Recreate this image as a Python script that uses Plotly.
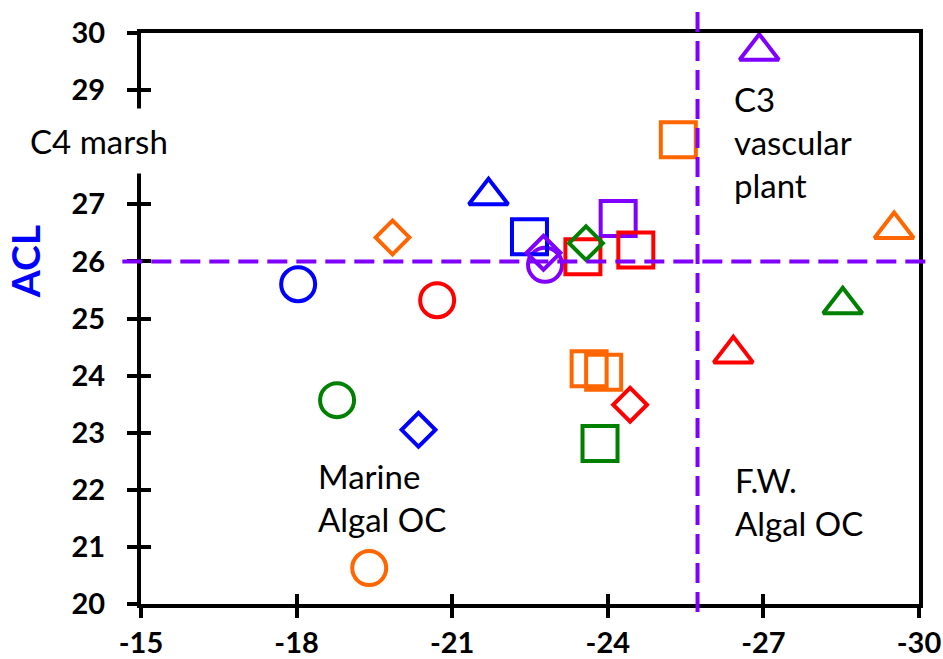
import plotly.graph_objects as go

# ---- data (delta13C on x, ACL on y) ----
circle_x = [-18.03, -20.71, -18.78, -19.40, -22.79]
circle_y = [25.60, 25.32, 23.57, 20.63, 25.94]
circle_c = ["#0000FF", "#FF0000", "#008000", "#FF6600", "#7F00FF"]

diamond_x = [-20.35, -19.85, -22.76, -23.58, -24.43]
diamond_y = [23.05, 26.42, 26.15, 26.32, 23.49]
diamond_c = ["#0000FF", "#FF6600", "#7F00FF", "#008000", "#FF0000"]

triangle_x = [-21.70, -26.92, -29.52, -28.53, -26.42]
triangle_y = [27.15, 29.68, 26.56, 25.24, 24.38]
triangle_c = ["#0000FF", "#7F00FF", "#FF6600", "#008000", "#FF0000"]

square_x = [-22.49, -24.20, -23.52, -24.54, -25.36, -23.64, -23.92, -23.85]
square_y = [26.43, 26.75, 26.08, 26.20, 28.13, 24.12, 24.06, 22.81]
square_c = ["#0000FF", "#7F00FF", "#FF0000", "#FF0000", "#FF6600",
            "#FF6600", "#FF6600", "#008000"]

x_ticks = [-15, -18, -21, -24, -27, -30]
x_ticktext = ["-15", "-18", "-21", "-24", "-27", "-30"]
y_ticks = [20, 21, 22, 23, 24, 25, 26, 27, 28, 29, 30]
# the "28" label is hidden behind the "C4 marsh" label in the reference
y_ticktext = ["20", "21", "22", "23", "24", "25", "26", "27", "", "29", "30"]

acl_threshold = 26
d13c_threshold = -25.73

FONT = "Lato"
PURPLE = "#7F00FF"

fig = go.Figure()

def add_series(xs, ys, cs, symbol, size):
    fig.add_trace(go.Scatter(
        x=xs, y=ys, mode="markers", showlegend=False, hoverinfo="x+y",
        marker=dict(symbol=symbol, size=size, color=cs,
                    line=dict(color=cs, width=4)),
    ))

add_series(circle_x, circle_y, circle_c, "circle-open", 34)
add_series(triangle_x, triangle_y, triangle_c, "triangle-up-open", 34)
add_series(square_x, square_y, square_c, "square-open", 35)
add_series(diamond_x, diamond_y, diamond_c, "diamond-open", 26)

# empty trace to activate overlay axes (inner half of the crossing ticks)
fig.add_trace(go.Scatter(x=[], y=[], xaxis="x2", yaxis="y2",
                         showlegend=False, hoverinfo="skip"))

axis_common = dict(showgrid=False, zeroline=False, linecolor="black",
                   linewidth=4, ticks="outside", ticklen=10, tickwidth=4,
                   tickcolor="black", mirror=True, showline=True,
                   automargin=False,
                   tickfont=dict(family=FONT, size=29, color="black",
                                 weight="bold"))
inner_common = dict(ticks="inside", ticklen=10, tickwidth=4,
                    tickcolor="black", showticklabels=False, showline=False,
                    showgrid=False, zeroline=False, automargin=False)

fig.update_layout(
    width=943, height=659,
    margin=dict(l=141, r=24, t=33, b=55),
    paper_bgcolor="white", plot_bgcolor="white",
    xaxis=dict(range=[-15, -30], tickvals=x_ticks, ticktext=x_ticktext,
               ticklabelstandoff=0, **axis_common),
    yaxis=dict(range=[20, 30], tickvals=y_ticks, ticktext=y_ticktext,
               ticklabelstandoff=16, **axis_common),
    xaxis2=dict(overlaying="x", anchor="y", side="bottom", range=[-15, -30],
                tickvals=x_ticks, **inner_common),
    yaxis2=dict(overlaying="y", anchor="x", side="left", range=[20, 30],
                tickvals=y_ticks, **inner_common),
)

# threshold dashed lines
fig.add_shape(type="line", xref="paper", yref="y", x0=-0.024, x1=1.017,
              y0=acl_threshold, y1=acl_threshold,
              line=dict(color=PURPLE, width=4, dash="20px,9px"), layer="above")
fig.add_shape(type="line", xref="x", yref="paper", x0=d13c_threshold,
              x1=d13c_threshold, y0=-0.014, y1=1.049,
              line=dict(color=PURPLE, width=4, dash="20px,9px"), layer="above")

txt_font = dict(family=FONT, size=33, color="black")

fig.add_annotation(text="C4 marsh", xref="paper", yref="y", x=-0.16, y=28.1,
                   xanchor="left", yanchor="middle", showarrow=False,
                   font=txt_font, bgcolor="white", borderpad=12)
fig.add_annotation(text="C3<br>vascular<br>plant", xref="x", yref="y",
                   x=-26.40, y=28.09, xanchor="left", yanchor="middle",
                   align="left", showarrow=False, font=txt_font)
fig.add_annotation(text="Marine<br>Algal OC", xref="x", yref="y",
                   x=-18.37, y=21.87, xanchor="left", yanchor="middle",
                   align="left", showarrow=False, font=txt_font)
fig.add_annotation(text="F.W.<br>Algal OC", xref="x", yref="y",
                   x=-26.41, y=21.80, xanchor="left", yanchor="middle",
                   align="left", showarrow=False, font=txt_font)
fig.add_annotation(text="ACL", xref="paper", yref="y", x=-0.148, y=26.0,
                   xanchor="center", yanchor="middle", textangle=-90,
                   showarrow=False,
                   font=dict(family=FONT, size=39, color="#0000FF",
                             weight="bold"))

fig.write_html("out.html")
